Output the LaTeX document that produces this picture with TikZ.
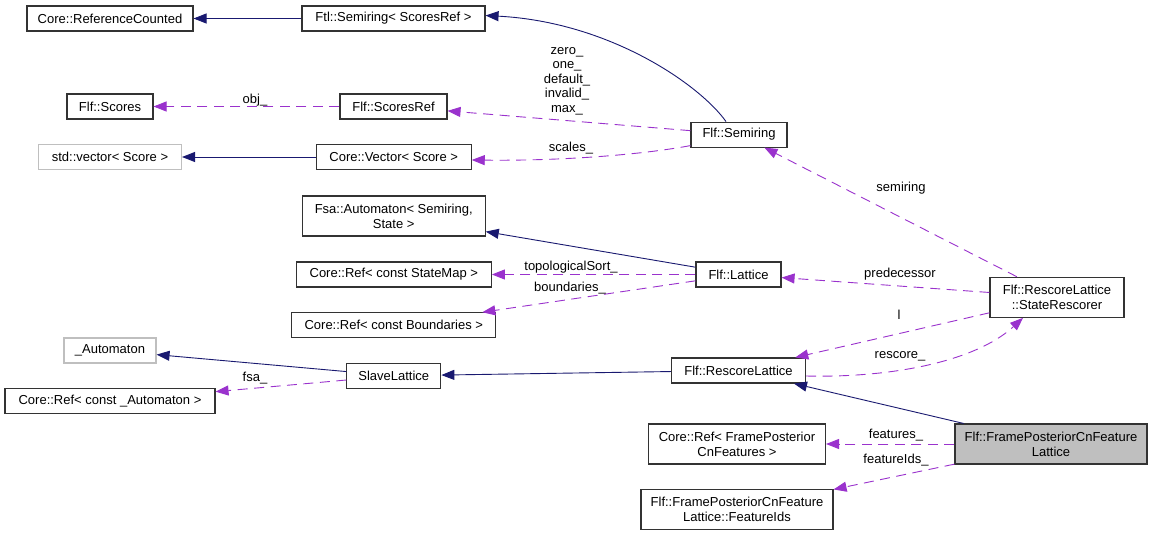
\documentclass[tikz,border=0pt]{standalone}
\usepackage{fontspec}
\setmainfont{Liberation Sans}
\usetikzlibrary{arrows.meta}
\definecolor{navy}{RGB}{25,25,112}
\definecolor{orchid}{RGB}{154,50,205}

\begin{document}
\begin{tikzpicture}[x=1pt, y=-1pt, font=\fontsize{13}{15}\selectfont,
    every node/.style={align=center, inner sep=0pt},
    cls/.style={draw=black!80, line width=1.1pt, fill=white, minimum height=25pt},
    cls2/.style={cls, minimum height=40pt},
    ext/.style={cls, draw=black!25},
    inh/.style={draw=navy, line width=0.9pt, -{Triangle[length=13pt,width=10pt]}},
    mem/.style={draw=orchid, line width=0.9pt, dash pattern=on 10pt off 6.5pt, -{Triangle[length=13pt,width=10pt]}},
    lbl/.style={font=\fontsize{13}{14.5}\selectfont}]
    \fill[white] (0,0) rectangle (1160,535);
    \useasboundingbox (0,0) rectangle (1160,535);

    % left column
    \node[cls, minimum width=166pt] (refc) at (110,18.5) {Core::ReferenceCounted};
    \node[cls, minimum width=86pt] (scores) at (110,106.5) {Flf::Scores};
    \node[ext, minimum width=143pt] (stdvec) at (110,157) {std::vector< Score >};
    \node[ext, minimum width=92pt] (autom) at (110,350.5) {\_Automaton};
    \node[cls, minimum width=210pt] (refaut) at (110,401) {Core::Ref< const \_Automaton >};

    % middle column
    \node[cls, minimum width=183pt] (ftlsr) at (393.5,18.5) {Ftl::Semiring< ScoresRef >};
    \node[cls, minimum width=107pt] (scoresref) at (393.5,106.5) {Flf::ScoresRef};
    \node[cls, minimum width=155pt] (corevec) at (393.7,157) {Core::Vector< Score >};
    \node[cls2, minimum width=183pt] (fsaaut) at (393.7,216) {Fsa::Automaton< Semiring,\\State >};
    \node[cls, minimum width=195pt] (refsm) at (393.8,274.5) {Core::Ref< const StateMap >};
    \node[cls, minimum width=204pt] (refbd) at (393.8,325.3) {Core::Ref< const Boundaries >};
    \node[cls, minimum width=94pt] (slave) at (393.8,375.8) {SlaveLattice};

    % right part
    \node[cls, minimum width=96pt] (semiring) at (739,134.6) {Flf::Semiring};
    \node[cls, minimum width=85pt] (lattice) at (738.5,274.5) {Flf::Lattice};
    \node[cls, minimum width=134pt] (rescore) at (738.5,370.5) {Flf::RescoreLattice};
    \node[cls2, minimum width=134pt] (rescorer) at (1057,297.3) {Flf::RescoreLattice\\::StateRescorer};
    \node[cls2, minimum width=177pt] (reffeat) at (737,444) {Core::Ref< FramePosterior\\CnFeatures >};
    \node[cls2, minimum width=192pt, fill=black!25] (fpcfl) at (1051,444) {Flf::FramePosteriorCnFeature\\Lattice};
    \node[cls2, minimum width=192pt] (featids) at (737,509.5) {Flf::FramePosteriorCnFeature\\Lattice::FeatureIds};

    % inheritance
    \draw[inh] (ftlsr) -- (refc);
    \draw[inh] ([xshift=-13pt]semiring.north) .. controls (700,85) and (610,22) .. ([yshift=3pt]ftlsr.east);
    \draw[inh] (corevec) -- (stdvec);
    \draw[inh] (lattice) -- (fsaaut);
    \draw[inh] (slave) -- (autom);
    \draw[inh] (rescore) -- (slave);
    \draw[inh] (fpcfl) -- (rescore);

    % members
    \draw[mem] (scoresref) -- (scores);
    \draw[mem] (semiring) -- (scoresref);
    \draw[mem] ([yshift=-11pt]semiring.west) .. controls (640,155) and (560,161) .. ([yshift=-3pt]corevec.east);
    \draw[mem] (rescorer) -- (semiring);
    \draw[mem] (lattice) -- (refsm);
    \draw[mem] (lattice) -- (refbd);
    \draw[mem] (rescorer) -- (lattice);
    \draw[mem] (rescorer) -- (rescore);
    \draw[mem] ([yshift=-5.5pt]rescore.east) .. controls (890,378) and (975,362) .. ([xshift=-34pt]rescorer.south);
    \draw[mem] (fpcfl) -- (reffeat);
    \draw[mem] (fpcfl) -- (featids);
    \draw[mem] (slave) -- (refaut);

    % edge labels
    \node[lbl] (lobj) at (255,100) {obj\_};
    \node[lbl] (lsr) at (567,81) {zero\_\\one\_\\default\_\\invalid\_\\max\_};
    \node[lbl] (lsc) at (571,148) {scales\_};
    \node[lbl] (lsem) at (901,188) {semiring};
    \node[lbl] (ltop) at (571,267) {topologicalSort\_};
    \node[lbl] (lbnd) at (570,288) {boundaries\_};
    \node[lbl] (lpred) at (900,274) {predecessor};
    \node[lbl] (ll) at (899,315) {l};
    \node[lbl] (lres) at (900,356) {rescore\_};
    \node[lbl] (lfeat) at (896,435) {features\_};
    \node[lbl] (lfid) at (896,460) {featureIds\_};
    \node[lbl] (lfsa) at (255,378) {fsa\_};
\end{tikzpicture}
\end{document}
